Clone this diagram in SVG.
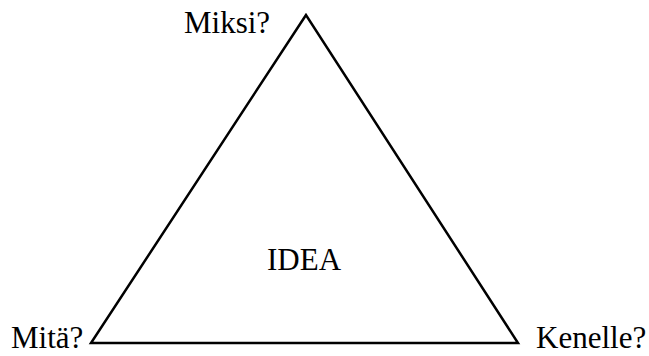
<svg xmlns="http://www.w3.org/2000/svg" width="649" height="356" viewBox="0 0 649 356">
<style>
text{font-family:"Liberation Serif","Times New Roman",serif;font-size:31px;fill:#000}
.tri{fill:none;stroke:#000;stroke-width:2.5}
</style>
<rect width="649" height="356" fill="#fff"/>
<g id="triangle"><polygon class="tri" points="306,15 91,343 518,343"/></g>
<g id="connectors"></g>
<g id="miksi"><text x="184" y="33">Miksi?</text></g>
<g id="mita"><text x="11" y="348">Mitä?</text></g>
<g id="kenelle"><text x="536" y="348">Kenelle?</text></g>
<g id="idea"><text x="267" y="270">IDEA</text></g>
</svg>
